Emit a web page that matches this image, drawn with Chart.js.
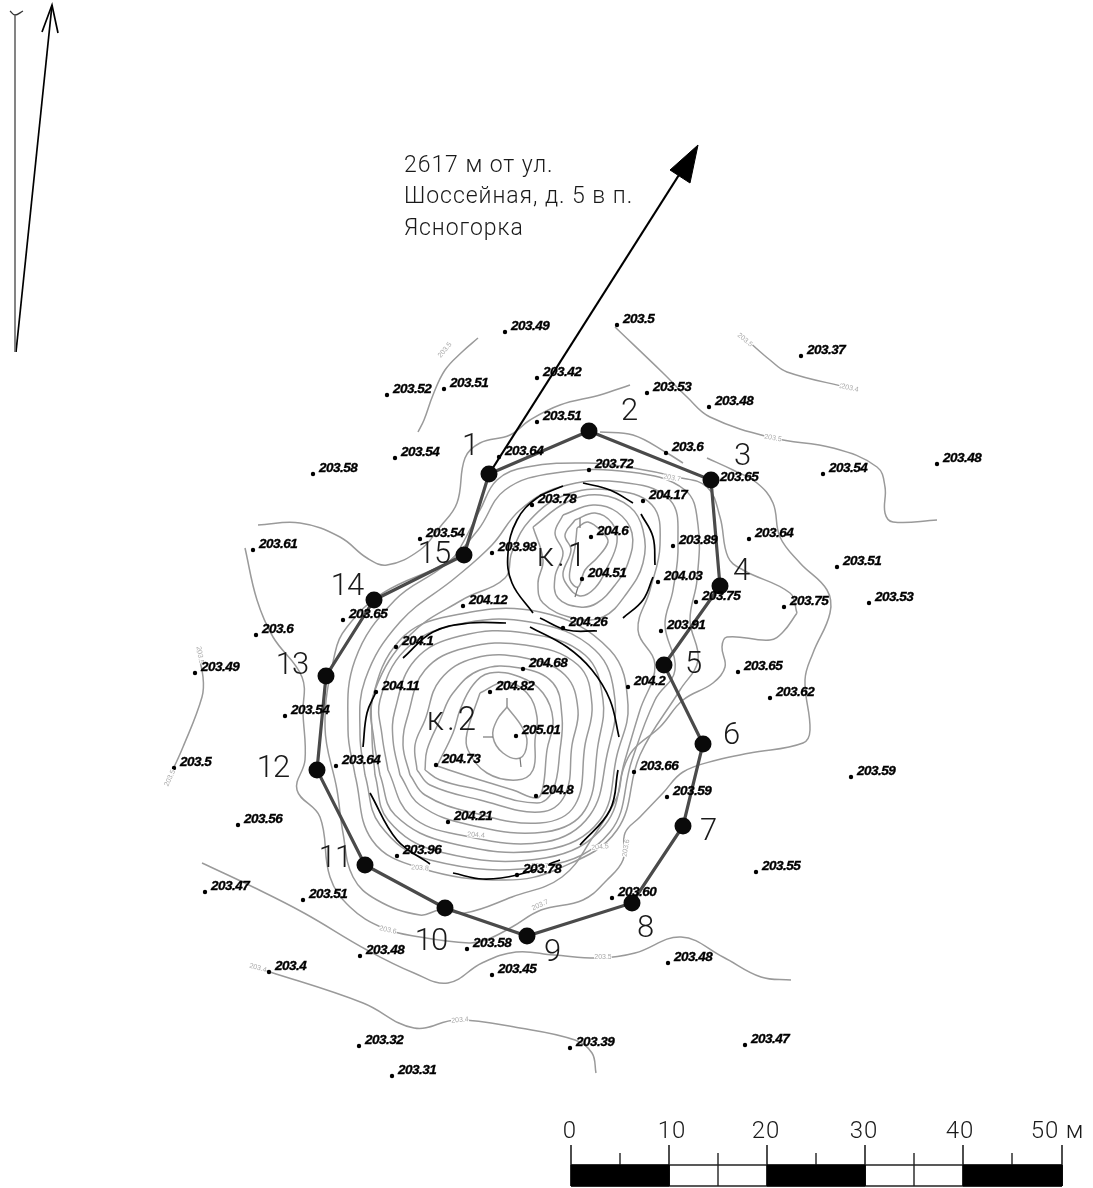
<!DOCTYPE html>
<html><head><meta charset="utf-8">
<style>html,body{margin:0;padding:0;background:#fff}canvas{display:block}</style>
<script src="https://cdn.jsdelivr.net/npm/chart.js@4"></script>
</head><body><canvas id="c" width="1093" height="1188"></canvas>
<script>
// spot heights
const spotX=[505,617,801,537,387,444,647,709,537,666,499,395,313,589,714,823,937,532,643,591,749,492,673,420,253,837,582,658,696,784,869,463,343,563,396,661,256,523,738,628,490,770,376,195,285,516,436,336,634,667,174,851,536,448,238,397,756,517,205,303,612,467,360,668,492,269,359,570,745,392];
const spotY=[332,325,356,378,395,389,393,407,422,453,457,458,474,470,483,474,464,505,501,537,539,553,546,539,550,567,579,582,602,607,603,606,620,628,647,631,635,669,672,687,692,698,692,673,716,736,765,766,772,797,768,777,796,822,825,856,872,875,892,900,898,949,956,963,975,972,1046,1048,1045,1076];
const spotValues=['203.49','203.5','203.37','203.42','203.52','203.51','203.53','203.48','203.51','203.6','203.64','203.54','203.58','203.72','203.65','203.54','203.48','203.78','204.17','204.6','203.64','203.98','203.89','203.54','203.61','203.51','204.51','204.03','203.75','203.75','203.53','204.12','203.65','204.26','204.1','203.91','203.6','204.68','203.65','204.2','204.82','203.62','204.11','203.49','203.54','205.01','204.73','203.64','203.66','203.59','203.5','203.59','204.8','204.21','203.56','203.96','203.55','203.78','203.47','203.51','203.60','203.58','203.48','203.48','203.45','203.4','203.32','203.39','203.47','203.31'];

// survey boundary
const stationNames=['1','2','3','4','5','6','7','8','9','10','11','12','13','14','15'];
const stationX=[489,589,711,720,664,703,683,632,527,445,365,317,326,374,464];
const stationY=[474,431,480,586,665,744,826,903,936,908,865,770,676,600,555];
const stationLabelX=[470,629,742,741,693,731,708,645,552,431,335,273,292,347,434];
const stationLabelY=[447,412,457,572,665,736,832,929,953,942,859,769,666,587,555];

// open contours
const contourA=[[630,385],[600,395],[560,405],[530,420],[510,435],[480,443],[465,458],[457,503],[440,527],[420,550],[387,565],[367,558],[340,537],[300,523],[258,525]];
const contourB=[[615,327],[663,373],[687,397],[710,417],[773,438],[833,448],[877,467],[885,487],[885,513],[893,522],[937,520]];
const contourC=[[747,340],[770,360],[787,372],[850,388]];
const contourD=[[600,432],[633,435],[667,453],[683,463]];
const contourE=[[707,458],[733,470],[757,483],[773,503],[780,537],[800,563],[827,590],[830,613],[813,653],[805,680],[810,730],[803,743],[750,753],[717,760],[683,772],[663,793],[640,817],[625,833],[623,860],[607,880],[583,900],[541,910],[512,927],[486,940],[469,943],[420,937],[383,928],[350,907],[330,877],[320,817],[297,790],[305,760],[303,713],[302,677],[273,637],[257,600],[245,548]];
const contourF=[[791,980],[761,977],[723,957],[681,937],[635,953],[600,958],[554,955],[516,952],[482,963],[448,983],[414,973],[367,950],[304,913],[253,887],[202,863]];
const contourG=[[255,968],[270,972],[363,1003],[414,1028],[457,1020],[520,1028],[575,1040],[592,1053],[596,1073]];
const contourH=[[197,650],[203,677],[202,697],[183,747],[168,780]];
const contourTop=[[478,338],[462,352],[445,370],[433,395],[424,420],[418,432]];

// closed contours round both hills
const ringOuter=[[797,613],[783,632],[770,640],[727,637],[722,647],[725,667],[713,683],[683,700],[660,727],[633,750],[623,770],[617,797],[593,837],[562,877],[512,897],[465,913],[440,910],[420,915],[377,900],[353,877],[343,833],[337,790],[325,727],[335,653],[347,627],[383,593],[447,563],[457,553],[480,510],[497,480],[527,467],[587,463],[633,468],[677,477],[707,487],[720,517],[728,557],[743,570],[790,593],[797,613]];
const ringJ3=[[355,775],[372,840],[420,868],[505,880],[560,868],[617,830],[640,755],[680,690],[698,660],[690,620],[697,580],[698,525],[685,490],[630,472],[555,473],[505,490],[478,530],[445,565],[395,600],[355,660],[348,730],[355,775]];
const ringJ2=[[365,775],[380,825],[430,860],[545,866],[610,832],[632,760],[655,700],[675,670],[665,625],[673,590],[678,545],[670,500],[620,482],[560,487],[520,510],[492,545],[455,578],[400,622],[365,680],[360,735],[365,775]];
const ringJ1=[[375,775],[388,820],[440,852],[545,858],[605,825],[625,760],[640,710],[655,665],[638,630],[650,590],[660,545],[652,505],[610,490],[565,495],[530,520],[512,552],[505,578],[462,600],[410,635],[375,690],[372,735],[375,775]];

// hill 1 contours
const hill1A=[[577,528],[588,522],[603,533],[608,542],[597,558],[585,570],[578,587],[570,580],[571,565],[575,547],[577,528]];
const hill1B=[[575,520],[595,513],[612,523],[617,542],[607,568],[595,588],[580,596],[567,585],[563,573],[571,550],[565,535],[575,520]];
const hill1C=[[563,515],[593,505],[617,512],[632,533],[628,563],[615,585],[597,603],[580,607],[558,598],[555,577],[563,553],[555,533],[563,515]];
const hill1D=[[533,527],[567,502],[600,495],[630,507],[643,530],[643,563],[627,593],[603,617],[573,618],[543,603],[538,583],[543,560],[533,527]];

// hill 2 contours
const hill2A=[[507,707],[497,720],[493,737],[503,753],[520,758],[527,743],[522,727],[507,707]];
const hill2B=[[480,693],[505,682],[527,693],[537,717],[535,740],[533,770],[517,780],[487,773],[468,750],[467,733],[480,693]];
const hill2C=[[437,766],[480,780],[513,790],[537,798],[543,787],[547,750],[553,720],[543,693],[520,677],[490,673],[473,685],[460,710],[453,733],[437,766]];
const hill2D=[[425,770],[440,780],[480,790],[537,803],[553,790],[560,750],[562,717],[553,683],[520,668],[480,670],[453,693],[440,720],[427,750],[425,770]];
const hill2E=[[417,770],[430,785],[480,800],[540,812],[565,795],[572,745],[578,710],[565,675],[525,658],[475,658],[440,680],[425,720],[415,745],[417,770]];
const hill2F=[[410,775],[425,795],[470,812],[540,823],[575,805],[585,745],[592,705],[578,665],[525,645],[465,648],[425,670],[408,715],[403,745],[410,775]];
const hill2G=[[400,775],[420,805],[470,825],[545,832],[585,810],[598,745],[603,700],[585,655],[525,633],[460,636],[415,660],[395,710],[393,740],[400,775]];
const hill2H=[[388,770],[410,815],[460,835],[545,842],[590,815],[607,755],[615,700],[595,650],[530,622],[455,625],[405,650],[380,700],[382,735],[388,770]];
const hill2I=[[380,775],[395,815],[450,843],[545,850],[600,820],[617,755],[628,705],[610,650],[540,612],[450,616],[400,640],[372,700],[374,740],[380,775]];
const hillTicks=[[[507,698],[507,707]],[[483,737],[493,737]],[[520,758],[521,767]],[[580,518],[580,528]],[[578,587],[575,597]]];

// contour captions
const captionText=['203.5','203.4','203.4','203.5','203.6','203.4','203.4','203.5','203.5','203.5','203.5','203.6','203.7','203.7','203.8','204.4','204.5','203.7'];
const captionX=[773,848,460,603,388,258,850,445,745,200,170,626,540,672,420,476,600,540];
const captionY=[438,388,1020,957,930,968,388,350,340,655,778,848,905,478,868,835,847,866];
const captionAngle=[10,12,-5,0,12,15,12,-50,40,80,-65,-80,-25,10,5,5,-5,0];

// black work-boundary arcs
const arcs=[
 [[563,486],[537,498],[517,520],[508,553],[512,583],[533,613]],
 [[583,483],[610,490],[633,503]],
 [[641,514],[653,537],[655,565]],
 [[653,577],[643,600],[623,618]],
 [[540,618],[567,630],[597,631]],
 [[403,658],[433,632],[470,623],[506,623]],
 [[530,627],[567,647],[592,670],[610,700],[619,737]],
 [[618,770],[610,810],[580,845]],
 [[560,860],[517,875],[483,879],[453,873]],
 [[430,864],[397,840],[370,793]],
 [[363,747],[367,713],[376,692]]
];

// direction arrow, north sign
const bearingLine=[[489,474],[684,167]];
const bearingHead=[[698,145],[670,170],[690,183],[698,145]];
const northLine=[[15,15],[15,352]];
const northCap=[[10,11],[15,15],[23,11]];
const magneticLine=[[16,352],[52,5]];
const magneticHead=[[42,32],[52,5],[58,33]];

// scale bar
const barTicksMajor=[571,669,767,865,963,1062];
const barTicksMinor=[620,718,816,914,1012];
const barTicksLabels=['0','10','20','30','40','50'];
const barLabelX=[570,672,766,864,960,1045];
const barTop=1165, barBottom=1186, barAxisTop=1145, barMinorTop=1153;

const notes=['2617 м от ул.','Шоссейная, д. 5 в п.','Ясногорка'];
const noteX=404, noteY=[166,197,229];
const hillNames=[['к.1',563,558],['к.2',453,722]];

const GREY='#9a9a9a', INK='#000';
const xy=p=>({x:p[0],y:p[1]});
const stroke=(pts,color,width,tension)=>({data:pts.map(xy),showLine:true,borderColor:color,borderWidth:width,tension:tension||0,pointRadius:0,fill:false});
const solid=(pts)=>({data:pts.map(xy),showLine:true,borderColor:INK,borderWidth:1,backgroundColor:INK,pointRadius:0,fill:'shape',tension:0});
const datasets=[];

// topmost first
datasets.push({data:stationX.map((x,i)=>({x,y:stationY[i]})),showLine:false,pointRadius:8.5,pointBackgroundColor:'#0a0a0a',pointBorderWidth:0});
datasets.push({data:spotX.map((x,i)=>({x,y:spotY[i]})),showLine:false,pointRadius:2.2,pointBackgroundColor:INK,pointBorderWidth:0});
const closedStations=stationX.map((x,i)=>[x,stationY[i]]);closedStations.push(closedStations[0]);
datasets.push(stroke(closedStations,'#4a4a4a',3.2));
datasets.push(stroke(bearingLine,INK,2.2));
datasets.push(solid(bearingHead));
arcs.forEach(a=>datasets.push(stroke(a,INK,1.7,0.4)));
// scale bar
for(let i=0;i<5;i++){
  const a=barTicksMajor[i],b=barTicksMajor[i+1];
  if(i%2===0) datasets.push(solid([[a,barTop],[b,barTop],[b,barBottom],[a,barBottom],[a,barTop]]));
}
datasets.push(stroke([[571,barTop],[1062,barTop]],'#222',1.5));
datasets.push(stroke([[571,barBottom],[1062,barBottom]],'#222',1.5));
barTicksMajor.forEach(x=>datasets.push(stroke([[x,barAxisTop],[x,barBottom]],'#222',1.6)));
barTicksMinor.forEach((x,i)=>datasets.push(stroke([[x,barMinorTop],[x,(i%2===1)?barBottom:barTop]],'#222',1.4)));
// north sign
datasets.push(stroke(northLine,'#666',1.6));
datasets.push(stroke(northCap,'#333',1.3,0.4));
datasets.push(stroke(magneticLine,INK,1.7));
datasets.push(stroke(magneticHead,INK,1.7));
hillTicks.forEach(t=>datasets.push(stroke(t,'#777',1.2)));
[contourA,contourB,contourC,contourD,contourE,contourF,contourG,contourH,contourTop,ringOuter,ringJ3,ringJ2,ringJ1,hill1A,hill1B,hill1C,hill1D,hill2A,hill2B,hill2C,hill2D,hill2E,hill2F,hill2G,hill2H,hill2I].forEach(c=>datasets.push(stroke(c,GREY,1.5,0.4)));

const textPlugin={id:'mapText',afterDatasetsDraw(chart){
  const {ctx,scales:{x,y}}=chart;
  ctx.save();ctx.textBaseline='middle';
  // contour captions on a white patch
  ctx.font='7px "Liberation Sans"';ctx.textAlign='center';
  captionText.forEach((t,i)=>{
    ctx.save();ctx.translate(x.getPixelForValue(captionX[i]),y.getPixelForValue(captionY[i]));
    ctx.rotate(captionAngle[i]*Math.PI/180);
    ctx.fillStyle='#fff';ctx.fillRect(-9,-3,18,6);
    ctx.fillStyle='#a8a8a8';ctx.fillText(t,0,0);ctx.restore();
  });
  ctx.fillStyle='#000';ctx.strokeStyle='#000';ctx.lineWidth=0.35;
  ctx.font='italic bold 13.5px "Liberation Sans"';ctx.textAlign='left';
  ctx.letterSpacing='-0.5px';
  spotValues.forEach((t,i)=>{
    const px=x.getPixelForValue(spotX[i]+6),py=y.getPixelForValue(spotY[i]-6);
    ctx.fillText(t,px,py);ctx.strokeText(t,px,py);
  });
  ctx.letterSpacing='-1px';
  ctx.fillStyle='#1a1a1a';
  ctx.font='300 31px "Roboto"';ctx.textAlign='center';
  stationNames.forEach((t,i)=>ctx.fillText(t,x.getPixelForValue(stationLabelX[i]),y.getPixelForValue(stationLabelY[i])));
  ctx.letterSpacing='3px';
  ctx.font='300 33px "Roboto"';
  hillNames.forEach(h=>ctx.fillText(h[0],x.getPixelForValue(h[1]),y.getPixelForValue(h[2])));
  ctx.letterSpacing='1px';
  ctx.font='300 24px "Roboto"';
  barTicksLabels.forEach((t,i)=>ctx.fillText(t,x.getPixelForValue(barLabelX[i]),y.getPixelForValue(1132)));
  ctx.fillText('м',x.getPixelForValue(1075),y.getPixelForValue(1132));
  ctx.textAlign='left';ctx.font='300 23px "Roboto"';ctx.letterSpacing='0.95px';
  notes.forEach((t,i)=>ctx.fillText(t,x.getPixelForValue(noteX),y.getPixelForValue(noteY[i])));
  ctx.restore();
}};

new Chart(document.getElementById('c'),{
  type:'scatter',
  data:{datasets},
  plugins:[textPlugin],
  options:{responsive:false,animation:false,devicePixelRatio:1,layout:{padding:0,autoPadding:false},
    plugins:{legend:{display:false},tooltip:{enabled:false}},
    scales:{x:{type:'linear',min:0,max:1093,display:false},y:{type:'linear',min:0,max:1188,reverse:true,display:false}}}
});
</script></body></html>
